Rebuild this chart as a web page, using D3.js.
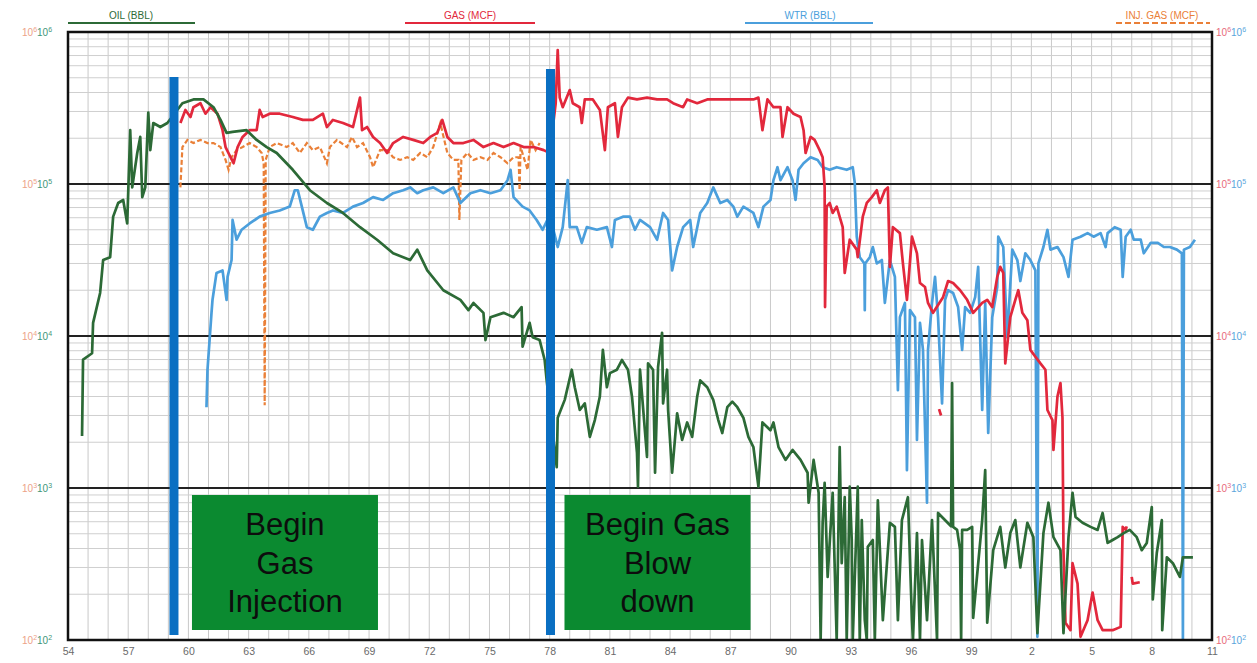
<!DOCTYPE html>
<html><head><meta charset="utf-8">
<script src="https://cdn.jsdelivr.net/npm/d3@7"></script>
<style>
body{margin:0;background:#fff;}
svg{display:block;font-family:"Liberation Sans",Arial,sans-serif;}
</style>
</head><body>
<svg id="c" width="1257" height="663"></svg>
<script>
// ---------- DATA (decimal year, value) ----------
const oil = [[1954.70,2200],[1954.75,7000],[1955.20,7700],[1955.25,12200],[1955.60,19200],[1955.75,31600],[1956.10,33000],[1956.25,61000],[1956.50,75000],[1956.75,78500],[1956.95,55000],[1957.10,226000],[1957.20,95000],[1957.45,160000],[1957.60,204000],[1957.70,82000],[1957.85,95000],[1958.00,295000],[1958.10,167000],[1958.25,252000],[1958.60,237000],[1958.95,252000],[1959.70,340000],[1960.25,360000],[1960.75,360000],[1961.25,320000],[1961.60,264000],[1961.90,217000],[1962.20,220000],[1962.90,226000],[1963.40,195000],[1963.90,175000],[1964.40,160000],[1965.20,124000],[1966.05,91000],[1966.90,75000],[1967.70,64500],[1968.55,52000],[1969.40,43000],[1970.20,35000],[1971.05,31600],[1971.40,37000],[1971.90,27000],[1972.70,20000],[1973.55,17300],[1973.95,14800],[1974.20,16500],[1974.70,14200],[1974.80,9400],[1975.05,13300],[1975.70,14200],[1976.20,13300],[1976.60,15500],[1976.65,8500],[1977.00,12200],[1977.15,9800],[1977.50,9400],[1977.75,6950],[1977.85,5100],
[1978.35,1370],[1978.40,2900],[1978.75,3800],[1979.10,6000],[1979.25,4600],[1979.50,3260],[1979.75,3600],[1980.00,2170],[1980.25,2800],[1980.50,4000],[1980.65,8100],[1980.85,4600],[1981.00,5700],[1981.35,6000],[1981.60,6950],[1981.90,6000],[1982.10,4000],[1982.35,1700],[1982.40,1020],[1982.50,6000],[1982.85,1600],[1982.90,6600],[1983.15,6000],[1983.25,1260],[1983.40,6250],[1983.60,10500],[1983.65,3600],[1983.85,6000],[1983.90,3260],[1984.10,1260],[1984.35,3100],[1984.60,2070],[1984.85,2700],[1985.10,2170],[1985.35,4000],[1985.50,5100],[1985.85,4600],[1986.15,3800],[1986.40,2800],[1986.60,2300],[1986.85,3400],[1987.10,3700],[1987.35,3400],[1987.65,2900],[1987.90,2170],[1988.15,1860],[1988.40,1020],[1988.60,2700],[1989.00,2400],[1989.15,2700],[1989.40,1860],[1989.75,1530],[1990.10,1780],[1990.50,1530],[1990.85,1260],[1990.90,800],[1991.15,1530],[1991.40,930],[1991.50,100],[1991.60,590],[1991.70,1080],[1991.85,260],[1992.10,930],[1992.30,100],[1992.45,1860],[1992.55,320],[1992.70,870],[1992.80,100],[1992.95,1020],[1993.05,455],[1993.10,100],[1993.35,1020],[1993.45,100],[1993.55,615],[1993.70,135],[1993.80,100],[1993.85,410],[1994.10,455],[1994.20,100],[1994.35,830],[1994.60,135],[1994.95,590],[1995.20,555],[1995.35,135],[1995.55,615],[1995.85,870],[1996.05,135],[1996.10,100],[1996.30,505],[1996.45,100],[1996.55,455],[1996.80,135],[1997.05,615],[1997.30,100],[1997.35,685],[1998.00,560],[1998.05,4900],[1998.10,555],[1998.30,530],[1998.45,390],[1998.50,100],[1998.55,530],[1998.80,530],[1999.05,555],[1999.10,140],[1999.55,615],[1999.70,1310],[1999.80,130],[2000.10,390],[2000.45,555],[2000.70,300],[2000.95,505],[2001.20,615],[2001.45,300],[2001.80,590],[2002.10,475],[2002.30,111],[2002.60,505],[2002.85,800],[2003.10,475],[2003.45,390],[2003.60,111],[2003.85,475],[2004.05,930],[2004.20,645],[2004.55,590],[2004.95,555],[2005.30,530],[2005.55,685],[2005.80,435],[2006.05,455],[2006.30,475],[2006.60,505],[2006.90,530],[2007.25,475],[2007.50,390],[2007.75,435],[2008.00,750],[2008.05,185],[2008.25,375],[2008.50,615],[2008.52,116],[2008.75,350],[2009.05,320],[2009.40,260],[2009.55,350],[2010.05,350]];

const gas = [[1959.60,252000],[1959.85,307000],[1960.10,276000],[1960.25,320000],[1960.60,340000],[1960.85,290000],[1961.10,320000],[1961.45,290000],[1961.70,226000],[1961.85,175000],[1962.10,150000],[1962.25,137000],[1962.45,175000],[1962.70,204000],[1963.05,226000],[1963.40,226000],[1963.55,307000],[1963.70,276000],[1964.05,290000],[1964.55,290000],[1965.20,276000],[1965.70,264000],[1966.20,264000],[1966.70,290000],[1966.90,237000],[1967.20,264000],[1967.70,252000],[1968.20,237000],[1968.55,370000],[1968.65,226000],[1968.90,237000],[1969.20,204000],[1969.55,186000],[1969.90,160000],[1970.20,186000],[1970.70,204000],[1971.20,195000],[1971.70,186000],[1972.05,204000],[1972.40,217000],[1972.65,264000],[1972.90,204000],[1973.20,186000],[1973.70,186000],[1974.20,195000],[1974.70,175000],[1975.20,186000],[1975.70,175000],[1976.20,186000],[1976.70,175000],[1977.20,175000],[1977.70,167000],[1978.00,160000],
[1978.30,340000],[1978.40,760000],[1978.50,370000],[1978.65,320000],[1979.00,415000],[1979.15,340000],[1979.50,320000],[1979.60,252000],[1979.75,360000],[1980.15,360000],[1980.50,307000],[1980.75,167000],[1980.90,320000],[1981.25,340000],[1981.40,204000],[1981.60,320000],[1981.90,370000],[1982.35,360000],[1982.85,370000],[1983.35,360000],[1983.85,360000],[1984.15,340000],[1984.65,320000],[1984.85,360000],[1985.35,340000],[1985.85,360000],[1986.65,360000],[1987.50,360000],[1988.15,360000],[1988.40,370000],[1988.60,226000],[1988.85,360000],[1989.15,320000],[1989.50,320000],[1989.60,204000],[1989.85,320000],[1990.15,290000],[1990.50,276000],[1990.65,226000],[1990.75,160000],[1991.00,204000],[1991.20,195000],[1991.45,167000],[1991.60,150000],[1991.70,95000],[1991.72,15500],[1991.80,71000],[1991.95,75000],[1992.10,64500],[1992.30,71000],[1992.60,52000],[1992.70,26000],[1992.95,43000],[1993.30,37000],[1993.35,33000],[1993.60,61000],[1993.80,75000],[1994.05,82000],[1994.30,91000],[1994.45,75000],[1994.70,91000],[1994.85,95000],[1994.95,28500],[1995.10,52000],[1995.45,47500],[1995.60,30000],[1995.80,17300],[1996.05,45000],[1996.30,35000],[1996.45,22300],[1996.70,21000],[1996.85,16500],[1997.10,14200],[1997.60,18000],[1997.85,23000],[1998.10,22300],[1998.45,20000],[1998.80,17300],[1999.10,14200],[1999.55,16500],[1999.80,17300],[2000.05,15500],[2000.30,24500],[2000.45,28500],[2000.60,26000],[2000.70,6600],[2000.95,13300],[2001.20,17300],[2001.35,20000],[2001.55,14200],[2001.80,12700],[2001.95,8100],[2002.20,7300],[2002.45,6600],[2002.70,6000],[2002.80,3260],[2003.05,2800],[2003.10,1780],[2003.30,4000],[2003.45,4900],[2003.55,2900],[2003.60,390],[2003.70,130],[2003.95,116],[2004.05,320],[2004.30,235],[2004.45,105],[2004.80,135],[2005.05,205],[2005.30,135],[2005.55,116],[2006.05,116],[2006.45,122],[2006.55,555],[2006.70,530],[2006.75,560],
null,[2007.00,260],[2007.05,235],[2007.40,240],
null,[1997.40,3300],[1997.50,3000]];

const water = [[1960.90,3400],[1960.95,6000],[1961.15,14200],[1961.20,17300],[1961.40,26000],[1961.70,27000],[1961.90,17300],[1961.95,24500],[1962.15,31600],[1962.20,58000],[1962.40,43000],[1962.65,50000],[1963.05,55000],[1963.55,61000],[1964.05,64500],[1964.55,67000],[1965.05,71000],[1965.30,91000],[1965.45,91000],[1965.65,71000],[1965.90,52000],[1966.20,50000],[1966.55,61000],[1966.90,64500],[1967.20,67000],[1967.70,64500],[1968.20,71000],[1968.70,75000],[1969.20,82000],[1969.70,78500],[1970.20,87000],[1970.70,91000],[1971.05,95000],[1971.40,87000],[1971.70,91000],[1972.20,95000],[1972.70,87000],[1973.20,95000],[1973.55,75000],[1974.05,87000],[1974.55,91000],[1975.05,87000],[1975.55,91000],[1975.90,106000],[1976.05,124000],[1976.20,82000],[1976.65,71000],[1977.00,67000],[1977.35,58000],[1977.65,50000],[1978.00,62500],[1978.40,38500],[1978.65,52000],[1978.90,106000],[1979.00,52000],[1979.35,52000],[1979.60,41000],[1979.85,52000],[1980.35,50000],[1980.85,52000],[1981.10,38500],[1981.25,58000],[1981.65,61000],[1982.00,61000],[1982.25,50000],[1982.50,58000],[1983.00,52000],[1983.35,43000],[1983.65,64500],[1983.90,58000],[1984.10,27000],[1984.35,38500],[1984.65,52000],[1985.00,58000],[1985.15,38500],[1985.50,64500],[1985.85,75000],[1986.15,95000],[1986.50,75000],[1986.85,78500],[1987.15,71000],[1987.35,61000],[1987.65,71000],[1988.15,64500],[1988.40,52000],[1988.65,71000],[1989.00,78500],[1989.15,106000],[1989.35,129000],[1989.50,106000],[1989.85,129000],[1990.10,106000],[1990.25,78500],[1990.40,124000],[1990.65,137000],[1991.00,150000],[1991.35,144000],[1991.60,129000],[1991.95,124000],[1992.30,129000],[1992.80,124000],[1993.10,129000],[1993.20,102000],[1993.30,45000],[1993.45,33000],[1993.68,30000],[1993.70,14800],[1993.72,30000],[1993.95,33000],[1994.10,38500],[1994.30,30000],[1994.55,31600],[1994.70,16500],[1994.95,31600],[1995.20,24500],[1995.35,4400],[1995.45,13300],[1995.70,16500],[1995.80,1310],[1995.95,14800],[1996.20,13300],[1996.30,2070],[1996.45,12200],[1996.60,8100],[1996.80,800],[1996.85,8100],[1997.05,16500],[1997.20,24500],[1997.35,13300],[1997.55,3600],[1997.70,17300],[1997.85,20000],[1998.10,19200],[1998.35,15500],[1998.55,8100],[1998.70,15500],[1998.95,14200],[1999.20,18000],[1999.35,28500],[1999.55,3260],[1999.70,16500],[1999.85,2300],[2000.05,13300],[2000.30,21000],[2000.35,45000],[2000.60,38500],[2000.80,9800],[2001.05,37000],[2001.30,31600],[2001.45,23000],[2001.70,35000],[2001.95,31600],[2002.20,27000],[2002.30,105],[2002.35,30000],[2002.60,38500],[2002.80,50000],[2002.95,37000],[2003.30,38500],[2003.60,33000],[2003.85,24500],[2004.05,43000],[2004.45,45000],[2004.80,47500],[2005.10,45000],[2005.45,47500],[2005.70,38500],[2005.80,47500],[2006.15,52000],[2006.45,50000],[2006.55,24500],[2006.70,45000],[2006.95,50000],[2007.10,43000],[2007.45,43000],[2007.60,35000],[2007.95,41000],[2008.30,41000],[2008.60,38500],[2008.90,38500],[2009.25,37000],[2009.50,35000],[2009.55,100],[2009.60,37000],[2009.90,38500],[2010.15,43000]];

const injGas = [[1959.60,95000],[1959.70,175000],[1959.95,195000],[1960.25,186000],[1960.60,195000],[1960.95,186000],[1961.25,186000],[1961.60,175000],[1961.85,144000],[1962.00,124000],[1962.15,150000],[1962.40,167000],[1962.70,175000],[1963.05,186000],[1963.40,175000],[1963.65,160000],[1963.75,137000],[1963.80,3500],[1963.85,144000],[1964.05,175000],[1964.40,186000],[1964.90,175000],[1965.20,186000],[1965.55,160000],[1965.90,186000],[1966.20,167000],[1966.55,175000],[1966.90,137000],[1967.05,175000],[1967.40,195000],[1967.90,175000],[1968.15,204000],[1968.40,175000],[1968.70,186000],[1969.05,150000],[1969.20,129000],[1969.55,167000],[1969.90,167000],[1970.20,150000],[1970.55,144000],[1970.90,150000],[1971.20,144000],[1971.55,160000],[1971.90,150000],[1972.20,175000],[1972.55,252000],[1972.90,160000],[1973.20,144000],[1973.45,144000],[1973.50,58000],[1973.60,144000],[1973.90,160000],[1974.20,144000],[1974.55,150000],[1974.90,144000],[1975.20,160000],[1975.55,150000],[1975.90,137000],[1976.20,150000],[1976.45,150000],[1976.50,91000],[1976.55,175000],[1976.90,124000],[1977.05,195000],[1977.30,167000],[1977.50,186000]];

const seriesNames = ["OIL (BBL)", "GAS (MCF)", "WTR (BBL)", "INJ. GAS (MCF)"];
const xTickYears = [1954,1957,1960,1963,1966,1969,1972,1975,1978,1981,1984,1987,1990,1993,1996,1999,2002,2005,2008,2011];
const xTickLabels = ["54","57","60","63","66","69","72","75","78","81","84","87","90","93","96","99","2","5","8","11"];
const decadeExponents = [2,3,4,5,6];
const eventYears = [1959.28, 1978.04];
const eventLabels = [["Begin","Gas","Injection"],["Begin Gas","Blow","down"]];

// ---------- LAYOUT ----------
const L = 68, R = 1212, T = 32, B = 640;
const colors = {oil:"#2c6a36", gas:"#e2283c", water:"#4b9fdc", inj:"#ea8038"};
const svg = d3.select("#c");
const x = d3.scaleLinear().domain([1954, 2011]).range([L, R]);
const y = d3.scaleLog().domain([100, 1e6]).range([B, T]);

// grid: vertical every year
const grid = svg.append("g");
grid.selectAll("line.v").data(d3.range(1955, 2011)).join("line")
  .attr("x1", d => x(d)).attr("x2", d => x(d)).attr("y1", T).attr("y2", B)
  .attr("stroke", "#c9c9c9").attr("stroke-width", 1);
// minor horizontal (log)
const minors = [];
[100,1000,10000,100000].forEach(d => { for (let k = 2; k <= 9; k++) minors.push(d*k); });
grid.selectAll("line.h").data(minors).join("line")
  .attr("x1", L).attr("x2", R).attr("y1", d => y(d)).attr("y2", d => y(d))
  .attr("stroke", "#cfcfcf").attr("stroke-width", 1);
// major decades
grid.selectAll("line.m").data(decadeExponents.slice(1, 4)).join("line")
  .attr("x1", L).attr("x2", R).attr("y1", d => y(Math.pow(10, d))).attr("y2", d => y(Math.pow(10, d)))
  .attr("stroke", "#222").attr("stroke-width", 2);

// clip
svg.append("clipPath").attr("id", "clip").append("rect")
  .attr("x", L).attr("y", T).attr("width", R - L).attr("height", B - T);
const plot = svg.append("g").attr("clip-path", "url(#clip)");

const line = d3.line().defined(d => d !== null)
  .x(d => x(d[0])).y(d => y(Math.max(d[1], 90)));

plot.append("path").datum(injGas).attr("d", line).attr("fill", "none")
  .attr("stroke", colors.inj).attr("stroke-width", 2.2).attr("stroke-dasharray", "5,2.5");
plot.append("path").datum(water).attr("d", line).attr("fill", "none")
  .attr("stroke", colors.water).attr("stroke-width", 2.7).attr("stroke-linejoin", "round");
plot.append("path").datum(gas).attr("d", line).attr("fill", "none")
  .attr("stroke", colors.gas).attr("stroke-width", 2.7).attr("stroke-linejoin", "round");
plot.append("path").datum(oil).attr("d", line).attr("fill", "none")
  .attr("stroke", colors.oil).attr("stroke-width", 2.7).attr("stroke-linejoin", "round");

// frame
svg.append("rect").attr("x", L).attr("y", T).attr("width", R - L).attr("height", B - T)
  .attr("fill", "none").attr("stroke", "#111").attr("stroke-width", 2.5);

// event bars and boxes
const eventLayout = [{top: 77, gap: 18}, {top: 69, gap: 14}];
eventYears.forEach((yr, i) => {
  const cx = x(yr), lay = eventLayout[i];
  svg.append("rect").attr("x", cx - 4.5).attr("y", lay.top)
    .attr("width", 9).attr("height", 635 - lay.top).attr("fill", "#0a6fc2");
  const bx = cx + lay.gap, bw = 186, by = 495, bh = 135;
  svg.append("rect").attr("x", bx).attr("y", by).attr("width", bw).attr("height", bh).attr("fill", "#0b8a30");
  svg.append("text").attr("x", bx + bw / 2).attr("y", by + 40)
    .attr("text-anchor", "middle").attr("font-size", 31).attr("fill", "#0d0d0d")
    .selectAll("tspan").data(eventLabels[i]).join("tspan")
    .attr("x", bx + bw / 2).attr("dy", (d, j) => j === 0 ? 0 : 38.5).text(d => d);
});

// bottom axis
const xAxis = d3.axisBottom(x).tickValues(xTickYears).tickSize(0)
  .tickFormat((d, i) => xTickLabels[i]);
const gx = svg.append("g").attr("transform", `translate(0,${B + 5})`).call(xAxis);
gx.select(".domain").remove();
gx.selectAll("text").attr("fill", "#6a6a6a").attr("font-size", 10.5)
  .attr("font-family", "'Liberation Sans',Arial,sans-serif");

// y labels (double, overlapping, as in the original)
function powLabel(g, xx, yy, e, color) {
  const t = g.append("text").attr("x", xx).attr("y", yy).attr("fill", color).attr("font-size", 10);
  t.append("tspan").text("10");
  t.append("tspan").attr("dy", -4).attr("font-size", 7).text(e);
}
const lab = svg.append("g");
decadeExponents.forEach(e => {
  const yy = y(Math.pow(10, e)) + 4;
  powLabel(lab, 22, yy, e, "#eda288");
  powLabel(lab, 37, yy, e, "#3f9679");
  powLabel(lab, 1216, yy, e, "#e86a7a");
  powLabel(lab, 1231, yy, e, "#5aa5dc");
});

// legend along the top
const legendLayout = [
  {cx: 131, x0: 68, x1: 195, dash: null},
  {cx: 470, x0: 405, x1: 535, dash: null},
  {cx: 810, x0: 745, x1: 873, dash: null},
  {cx: 1162, x0: 1116, x1: 1210, dash: "6,3"}
];
const legendColors = [colors.oil, colors.gas, colors.water, colors.inj];
const lg = svg.append("g");
seriesNames.forEach((n, i) => {
  const l = legendLayout[i];
  lg.append("text").attr("x", l.cx).attr("y", 19).attr("text-anchor", "middle")
    .attr("font-size", 10).attr("fill", legendColors[i]).text(n);
  lg.append("line").attr("x1", l.x0).attr("x2", l.x1).attr("y1", 23).attr("y2", 23)
    .attr("stroke", legendColors[i]).attr("stroke-width", 2).attr("stroke-dasharray", l.dash);
});
</script>
</body></html>
